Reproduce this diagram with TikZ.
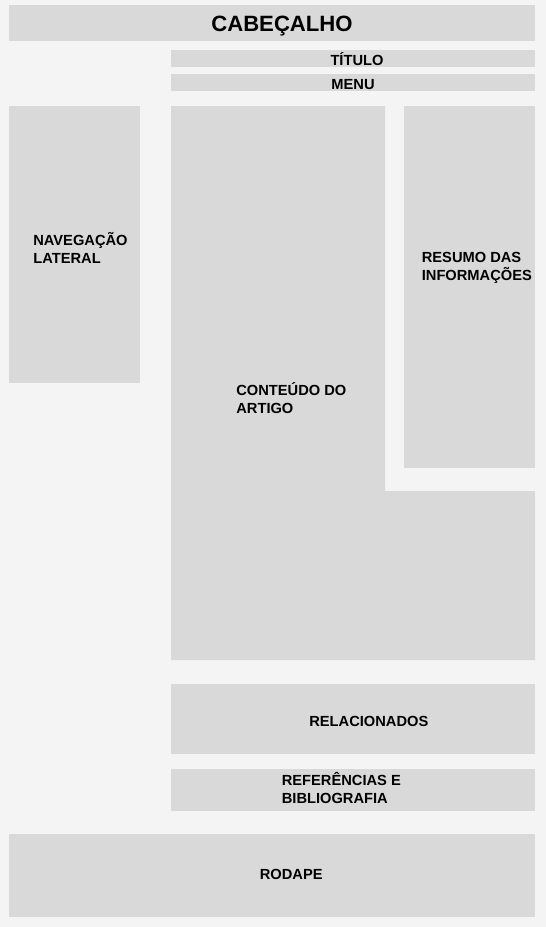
\documentclass[tikz,border=0pt]{standalone}
\usepackage{fontspec}
\setmainfont{Liberation Sans}
\usepackage{xcolor}
\usepackage{tikz}
\definecolor{wirebg}{HTML}{F4F4F4}
\definecolor{wireblock}{HTML}{D9D9D9}

\begin{document}
\begin{tikzpicture}[
    x=0.02cm, y=-0.02cm,
    block/.style={fill=wireblock},
    label/.style={inner sep=0pt, anchor=base west, align=left, text=black,
                  font=\fontsize{8.35pt}{10.2pt}\selectfont\bfseries},
    biglabel/.style={inner sep=0pt, anchor=base, text=black,
                  font=\fontsize{12.6pt}{14pt}\selectfont\bfseries}
]
    % fundo da pagina
    \fill[wirebg] (0,0) rectangle (546,927);
    \useasboundingbox (0,0) rectangle (546,927);

    % blocos
    \fill[block] (9,5) rectangle (535,41);
    \fill[block] (171,50) rectangle (535,67);
    \fill[block] (171,74) rectangle (535,91);
    \fill[block] (9,106) rectangle (140,383);
    \fill[block] (171,106) -- (385,106) -- (385,491) -- (535,491)
                 -- (535,660) -- (171,660) -- cycle;
    \fill[block] (404,106) rectangle (535,468);
    \fill[block] (171,684) rectangle (535,754);
    \fill[block] (171,769) rectangle (535,811);
    \fill[block] (9,834) rectangle (535,917);

    % textos (base = linha de base da ultima linha)
    \node[biglabel] (cabecalho) at (282,31) {CABEÇALHO};
    \node[label, anchor=base] (titulo) at (357,65) {TÍTULO};
    \node[label, anchor=base] (menu) at (353,89) {MENU};
    \node[label] (navegacao) at (33,263) {NAVEGAÇÃO\\LATERAL};
    \node[label] (conteudo) at (236,413) {CONTEÚDO DO\\ARTIGO};
    \node[label] (resumo) at (421.5,280.5) {RESUMO DAS\\INFORMAÇÕES};
    \node[label] (relacionados) at (309,726.5) {RELACIONADOS};
    \node[label] (referencias) at (281.5,803.5) {REFERÊNCIAS E\\BIBLIOGRAFIA};
    \node[label] (rodape) at (259.5,879) {RODAPE};
\end{tikzpicture}
\end{document}
